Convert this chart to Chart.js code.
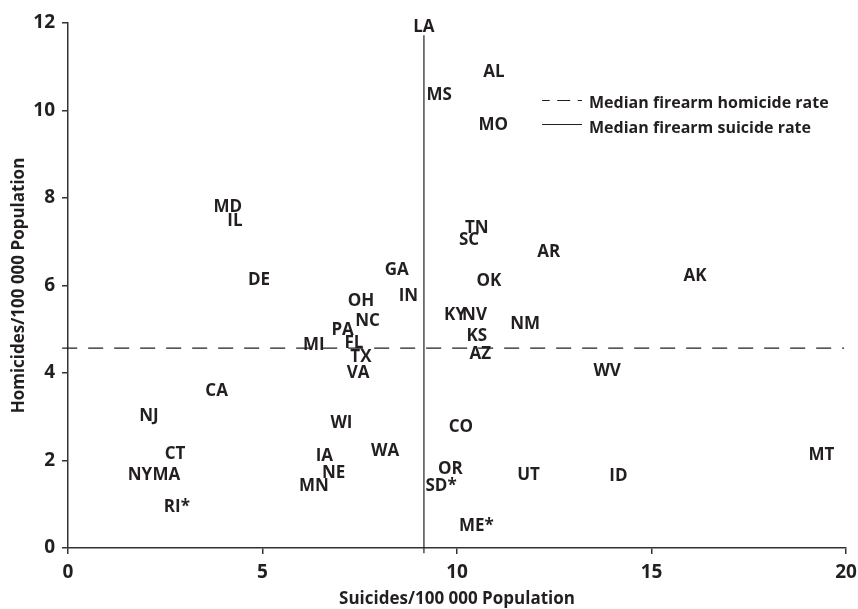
<!DOCTYPE html>
<html>
<head>
<meta charset="utf-8">
<script src="https://cdn.jsdelivr.net/npm/chart.js@4/dist/chart.umd.min.js"></script>
<style>
  html, body { margin: 0; padding: 0; background: #fff; }
  #wrap { width: 858px; height: 609px; }
</style>
</head>
<body>
<div id="wrap"><canvas id="c" width="858" height="609"></canvas></div>
<script>
// ---- Data ----
const states = ["LA","AL","MS","MO","TN","SC","AR","OK","AK","MD","IL","DE","GA","IN","OH","NC","PA","MI","FL","TX","VA","CA","NJ","WI","WA","CT","IA","NE","NY","MA","MN","RI*","SD*","OR","ME*","UT","ID","MT","WV","CO","KY","NV","NM","KS","AZ"];
const suicides = [9.15,10.95,9.54,10.93,10.51,10.31,12.36,10.82,16.12,4.11,4.29,4.91,8.45,8.75,7.53,7.70,7.06,6.32,7.35,7.53,7.46,3.82,2.08,7.03,8.15,2.75,6.59,6.83,1.85,2.53,6.32,2.80,9.59,9.83,10.50,11.84,14.15,19.37,13.86,10.10,9.95,10.45,11.75,10.51,10.60];
const homicides = [11.93,10.90,10.38,9.69,7.34,7.07,6.79,6.13,6.24,7.83,7.51,6.15,6.39,5.78,5.67,5.22,5.01,4.66,4.71,4.40,4.03,3.61,3.04,2.89,2.24,2.18,2.13,1.74,1.70,1.70,1.44,0.97,1.44,1.83,0.53,1.69,1.67,2.14,4.06,2.79,5.34,5.34,5.15,4.86,4.46];
const medianHomicide = 4.57;
const medianSuicide = 9.15;
const xTicks = [0, 5, 10, 15, 20];
const yTicks = [0, 2, 4, 6, 8, 10, 12];
const legendLabels = ["Median firearm homicide rate", "Median firearm suicide rate"];
const xTitle = "Suicides/100 000 Population";
const yTitle = "Homicides/100 000 Population";

const INK = '#231f20';
const FONT = "'Open Sans', 'Noto Sans', sans-serif";

const points = states.map((s, i) => ({ x: suicides[i], y: homicides[i] }));

const labelPlugin = {
  id: 'stateLabels',
  afterDatasetsDraw(chart) {
    const meta = chart.getDatasetMeta(2);
    const ctx = chart.ctx;
    ctx.save();
    ctx.fillStyle = INK;
    ctx.font = "bold 17px " + FONT;
    ctx.textAlign = 'center';
    ctx.textBaseline = 'alphabetic';
    meta.data.forEach((el, i) => {
      ctx.fillText(states[i], el.x, el.y + 6.1);
    });
    ctx.restore();
  }
};

const legendPlugin = {
  id: 'customLegend',
  afterDraw(chart) {
    const ctx = chart.ctx;
    ctx.save();
    ctx.strokeStyle = INK;
    ctx.lineWidth = 1.2;
    ctx.setLineDash([13, 7.5]);
    ctx.lineDashOffset = 5.3;
    ctx.beginPath(); ctx.moveTo(542, 100.5); ctx.lineTo(582, 100.5); ctx.stroke();
    ctx.setLineDash([]);
    ctx.beginPath(); ctx.moveTo(542, 124.5); ctx.lineTo(582, 124.5); ctx.stroke();
    ctx.fillStyle = INK;
    ctx.font = "bold 16px " + FONT;
    ctx.textAlign = 'left';
    ctx.textBaseline = 'alphabetic';
    ctx.fillText(legendLabels[0], 589, 107.5);
    ctx.fillText(legendLabels[1], 589, 132.5);
    ctx.restore();
  }
};

new Chart(document.getElementById('c'), {
  type: 'scatter',
  data: {
    datasets: [
      {
        type: 'line',
        data: [{ x: -0.15, y: medianHomicide }, { x: 19.95, y: medianHomicide }],
        borderColor: INK, borderWidth: 1.2, borderDash: [15, 11],
        pointRadius: 0, fill: false, clip: false
      },
      {
        type: 'line',
        data: [{ x: medianSuicide, y: -0.12 }, { x: medianSuicide, y: 11.72 }],
        borderColor: INK, borderWidth: 1.2,
        pointRadius: 0, fill: false, clip: false
      },
      {
        data: points,
        pointRadius: 0, pointHoverRadius: 0,
        backgroundColor: 'rgba(0,0,0,0)', borderColor: 'rgba(0,0,0,0)'
      }
    ]
  },
  options: {
    responsive: false,
    animation: false,
    events: [],
    layout: { padding: { top: 23, right: 12, left: 0, bottom: 0 } },
    plugins: { legend: { display: false }, tooltip: { enabled: false } },
    scales: {
      x: {
        type: 'linear', min: 0, max: 20,
        afterBuildTicks(s) { s.ticks = xTicks.map(v => ({ value: v })); },
        afterFit(s) { s.height = 61; s.paddingRight = 0; s.paddingLeft = 0; },
        border: { display: true, color: '#333', width: 1.5 },
        grid: { drawOnChartArea: false, drawTicks: true, tickLength: 6, color: '#333', lineWidth: 1.5 },
        ticks: { color: INK, font: { family: FONT, size: 19, weight: 'bold' }, padding: 7 },
        title: { display: true, text: xTitle, color: INK, font: { family: FONT, size: 17, weight: 'bold' }, padding: { top: 0, bottom: 0 } }
      },
      y: {
        type: 'linear', min: 0, max: 12,
        afterBuildTicks(s) { s.ticks = yTicks.map(v => ({ value: v })); },
        afterFit(s) { s.width = 68; s.paddingTop = 0; s.paddingBottom = 0; },
        border: { display: true, color: '#333', width: 1.5 },
        grid: { drawOnChartArea: false, drawTicks: true, tickLength: 6, color: '#333', lineWidth: 1.5 },
        ticks: { color: INK, font: { family: FONT, size: 19, weight: 'bold' }, padding: 7 },
        title: { display: true, text: yTitle, color: INK, font: { family: FONT, size: 17, weight: 'bold' }, padding: { top: 9, bottom: 0 } }
      }
    }
  },
  plugins: [labelPlugin, legendPlugin]
});
</script>
</body>
</html>
